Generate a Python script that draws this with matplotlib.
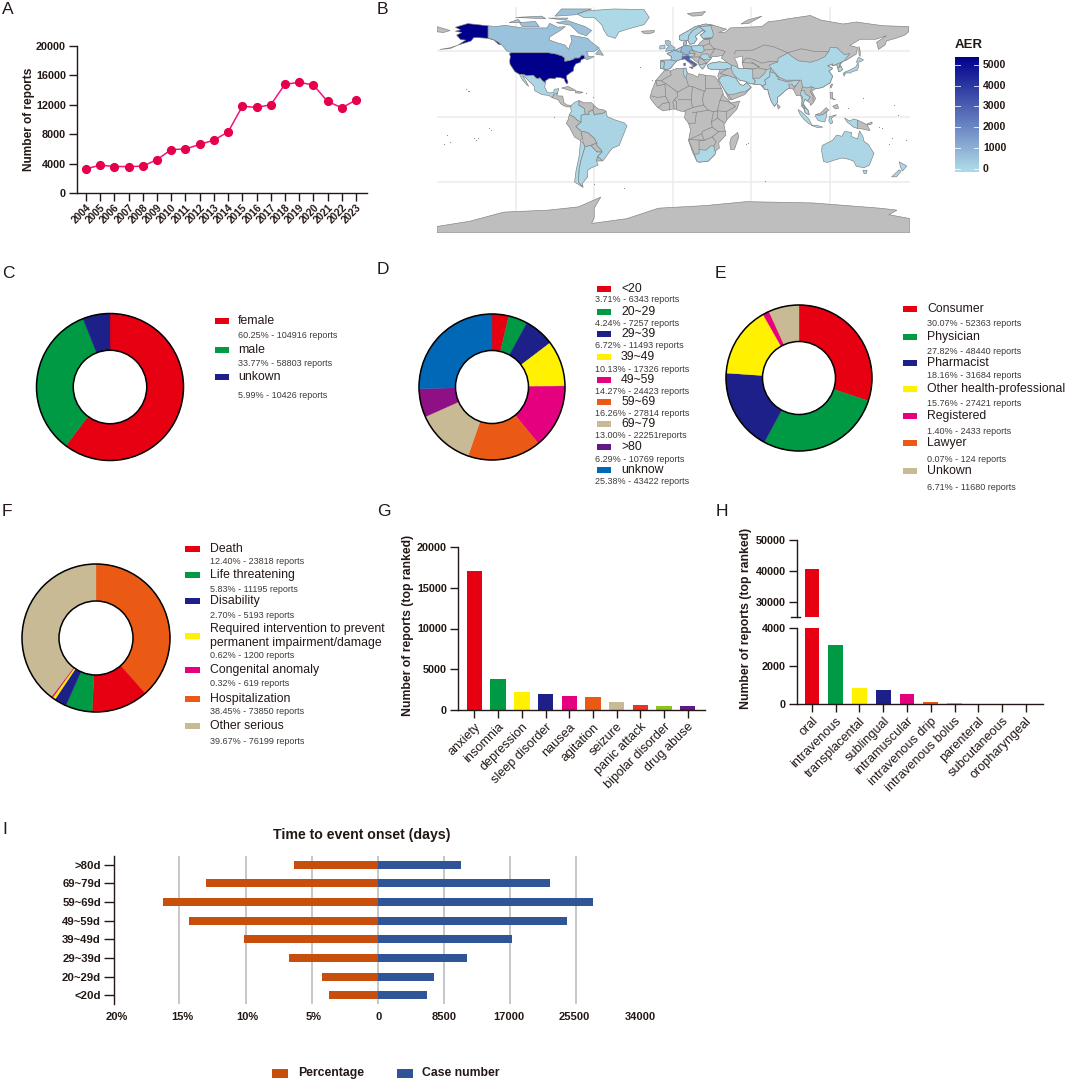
import matplotlib
matplotlib.use("Agg")
import numpy as np
import matplotlib.pyplot as plt
from matplotlib.patches import Rectangle, Circle, Polygon
from matplotlib.colors import LinearSegmentedColormap, Normalize

plt.rcParams['font.family'] = ['Liberation Sans', 'DejaVu Sans']
NARROW = ['Liberation Sans Narrow', 'Liberation Sans']

W, H = 1065, 1081
RED, GREEN, NAVY, YELLOW, PINK, ORANGE, TAN = '#e60012', '#009944', '#1d2088', '#fff100', '#e4007f', '#eb5a14', '#c9ba96'
PURPLE, BLUE = '#8f0f85', '#0068b7'

# ---------------- data ----------------
years = list(range(2004, 2024))
year_reports = [3270, 3800, 3600, 3600, 3650, 4550, 5900, 6000, 6600, 7200, 8300, 11800, 11650, 12000, 14800,
                15050, 14700, 12450, 11600, 12650]

sex_labels = ['female', 'male', 'unkown']
sex_notes = ['60.25% - 104916 reports', '33.77% - 58803 reports', '5.99% - 10426 reports']
sex_values = [104916, 58803, 10426]
sex_colors = [RED, GREEN, NAVY]

age_labels = ['<20', '20~29', '29~39', '39~49', '49~59', '59~69', '69~79', '>80', 'unknow']
age_notes = ['3.71% - 6343 reports', '4.24% - 7257 reports', '6.72% - 11493 reports', '10.13% - 17326 reports',
             '14.27% - 24423 reports', '16.26% - 27814 reports', '13.00% - 22251reports', '6.29% - 10769 reports',
             '25.38% - 43422 reports']
age_values = [6343, 7257, 11493, 17326, 24423, 27814, 22251, 10769, 43422]
age_colors = [RED, GREEN, NAVY, YELLOW, PINK, ORANGE, TAN, PURPLE, BLUE]

rep_labels = ['Consumer', 'Physician', 'Pharmacist', 'Other health-professional', 'Registered', 'Lawyer', 'Unkown']
rep_notes = ['30.07% - 52363 reports', '27.82% - 48440 reports', '18.16% - 31684 reports', '15.76% - 27421 reports',
             '1.40% - 2433 reports', '0.07% - 124 reports', '6.71% - 11680 reports']
rep_values = [52363, 48440, 31684, 27421, 2433, 124, 11680]
rep_colors = [RED, GREEN, NAVY, YELLOW, PINK, ORANGE, TAN]

out_labels = ['Death', 'Life threatening', 'Disability',
              'Required intervention to prevent\npermanent impairment/damage', 'Congenital anomaly',
              'Hospitalization', 'Other serious']
out_notes = ['12.40% - 23818 reports', '5.83% - 11195 reports', '2.70% - 5193 reports', '0.62% - 1200 reports',
             '0.32% - 619 reports', '38.45% - 73850 reports', '39.67% - 76199 reports']
out_values = [23818, 11195, 5193, 1200, 619, 73850, 76199]
out_colors = [RED, GREEN, NAVY, YELLOW, PINK, ORANGE, TAN]
# the ring starts at twelve o'clock with Hospitalization
out_ring_order = [5, 0, 1, 2, 3, 4, 6]

symptom_labels = ['anxiety', 'insomnia', 'depression', 'sleep disorder', 'nausea', 'agitation', 'seizure',
                  'panic attack', 'bipolar disorder', 'drug abuse']
symptom_values = [17030, 3830, 2240, 2000, 1750, 1630, 1020, 610, 530, 490]
symptom_colors = [RED, GREEN, YELLOW, NAVY, PINK, ORANGE, TAN, '#ea3323', '#8fc31f', '#601986']

route_labels = ['oral', 'intravenous', 'transplacental', 'sublingual', 'intramuscular', 'intravenous drip',
                'intravenous bolus', 'parenteral', 'subcutaneous', 'oropharyngeal']
route_values = [40700, 3130, 820, 720, 550, 130, 40, 15, 12, 5]
route_colors = [RED, GREEN, YELLOW, NAVY, PINK, ORANGE, TAN, '#ea3323', '#8fc31f', '#601986']

onset_labels = ['<20d', '20~29d', '29~39d', '39~49d', '49~59d', '59~69d', '69~79d', '>80d']
onset_pct = [3.71, 4.24, 6.72, 10.13, 14.27, 16.26, 13.00, 6.29]
onset_cases = [6343, 7257, 11493, 17326, 24423, 27814, 22251, 10769]

# reports per country (countries not listed have no colour scale value and stay grey)
aer_by_region = {'USA': 5400, 'Alaska': 5400, 'Italy': 3000, 'Sicily': 3000, 'Sardinia': 3000, 'Germany': 800,
                 'Canada': 550, 'Baffin': 550, 'Victoria': 550, 'Ellesmere': 550, 'Banks': 550, 'Devon': 550,
                 'Parry': 550, 'Newfoundland': 550, 'Britain': 500, 'Ireland': 150, 'France': 350, 'Spain': 200,
                 'Poland': 100, 'Netherlands': 150, 'Austria': 120, 'Denmark': 80, 'Sweden': 80, 'Norway': 80,
                 'Finland': 80, 'Romania': 50, 'Greece': 50, 'Portugal': 50, 'Greenland': 5, 'Mexico': 50, 'Colombia': 20,
                 'Brazil': 120, 'Argentina': 30, 'Chile': 20, 'China': 30, 'India': 50, 'Iran': 15, 'Pakistan': 15,
                 'Turkey': 25, 'Saudi': 10, 'Thailand': 10, 'Malaysia': 5, 'Sumatra': 5, 'Java': 5,
                 'BorneoSouth': 5, 'Sulawesi': 5, 'WestPapua': 5, 'Japan1': 50, 'Japan2': 50, 'Japan3': 50,
                 'SKorea': 20, 'Australia': 50, 'Tasmania': 50, 'NZNorth': 15, 'NZSouth': 15, 'SouthAfrica': 15,
                 'Tunisia': 5}

# outlines, lon / lat
regions = {
 'Eurasia': [(-9.5,37),(-9.3,43.2),(-1.5,43.5),(-1,46),(-4.5,48.4),(1.5,50.8),(4,52),(8,54),(8.5,57),(10.5,57.5),(10,54.5),(14,54),(19,54.5),(21,57),(24,59.4),(30,60),(23,60),(21,62.5),(25,65.5),(22,65.7),(17,61.5),(18.5,59.5),(16,56),(13,55.5),(11.5,58.5),(8,58),(5,59),(5,62),(12,66),(17,69),(25,71),(31,70),(41,67),(35,64.5),(40,64.7),(44,68),(54,68.5),(68,69),(73,72.8),(80,73.5),(88,75),(105,77.5),(113,74),(130,71),(140,72.5),(160,69.7),(180,69),(180,65),(177,62.5),(170,60),(163,58),(162,55),(157,51.5),(155.5,57),(163,62),(155,59.3),(143,59.3),(135,54.5),(141,53),(140,48),(132,43),(130,42.5),(127.5,39.8),(129.5,36),(126.5,34.5),(126,37),(125,39.8),(121.5,39),(122,40.5),(118,39),(122,37),(119,35),(122,31),(120,26),(114,22.3),(109,21.5),(106,19.5),(109,14),(107,10.5),(105,8.6),(104.8,10.5),(100.8,13.5),(99.5,10),(103.5,4.5),(104,1.4),(101,3),(100,6.5),(98.3,8),(98.5,13),(97.5,16.5),(94.5,16),(92,21),(89,21.8),(87,21),(82,16.5),(80,15),(80,11),(77.5,8),(75,12),(73,18),(72.5,21),(70,21),(67,24.5),(61.5,25),(57,26),(56,27),(51,28),(48.5,30),(48,29.5),(50,26.5),(51.5,24.5),(54,24),(56.3,26),(59.8,22.5),(55,17),(45,13),(43,13),(39,21),(35,28),(34.3,31.3),(36,36),(30,36.2),(27,37),(26.5,39.5),(29,41),(35,42),(41.5,41.5),(37,45),(38,47),(33,46),(30,46),(28,43),(26,40.8),(23,40.3),(24,38),(22.5,36.5),(19.5,41),(13.5,45.5),(12.5,44),(18.5,40),(16,38),(12,42),(9,44.3),(3,43),(0,39.5),(-2,36.8),(-5.5,36)],
 'Chukotka': [(-180,69),(-170,66),(-175,64.5),(-180,65)],
 'Aleutians': [(-178,51.5),(-170,52.8),(-164,54.8),(-170,52.2)],
 'Africa': [(-6,35.8),(-2,35),(3,37),(10,37.2),(11,33.5),(15,32.3),(19,30.3),(20,32.8),(25,31.7),(32,31),(34.2,28),(37,22),(39,16),(43,12),(44,10.5),(51,12),(49,6),(42,-1.5),(39,-6),(40.5,-14),(35,-20),(35.5,-24),(32.8,-26),(32,-29),(27,-34),(20,-34.8),(18.3,-34),(15,-27),(12,-18),(13.5,-10),(12,-5),(9,-1),(9.5,4),(6,4.3),(1,6),(-4,5.2),(-7.5,4.5),(-11.5,7),(-15,11),(-17.5,14.7),(-16,20),(-13,27.7),(-9.8,31.5)],
 'Madagascar': [(49.5,-12),(50.3,-15.5),(47,-25),(44,-25),(43.5,-20),(44.5,-16)],
 'CentralAmerica': [(-92,14.5),(-91,17.2),(-89.2,17.8),(-88,18.2),(-88.5,16),(-84,15.8),(-83.3,11),(-81,9),(-77.5,8.7),(-78,7.5),(-80.5,7.5),(-83,8.3),(-85.7,10),(-87.5,13)],
 'Venezuela': [(-71.5,12.4),(-68,10.7),(-62,10.7),(-60,8.5),(-61,5),(-64,4),(-64,1.5),(-67,2),(-67.5,6.2),(-72,9)],
 'Guyanas': [(-60,8.5),(-57,6),(-52,5),(-51,4),(-54,2.3),(-58,2),(-60,1.2),(-61,5)],
 'Peru': [(-79,1.5),(-75.5,0),(-73,-2.5),(-70,-4.2),(-74,-7.5),(-70,-11),(-69,-16),(-70.4,-18.3),(-75,-15.5),(-79,-8),(-81.3,-5),(-80,-2.5)],
 'Bolivia': [(-70,-11),(-65,-12),(-60,-16.3),(-58,-20),(-62.5,-22),(-67,-23),(-68.5,-20),(-69,-16)],
 'Paraguay': [(-58,-20),(-58,-22),(-54.5,-25.5),(-54,-27),(-58,-27),(-62.5,-22)],
 'Uruguay': [(-57.5,-30.2),(-53.5,-33.8),(-58.3,-34)],
 'Cuba': [(-85,22),(-80,23.2),(-74.2,20.2),(-78,20)],
 'Hispaniola': [(-74.5,19.8),(-68.5,18.7),(-71,18),(-74.4,18.3)],
 'Iceland': [(-24,65.5),(-14,66),(-14.5,64.5),(-19,63.4),(-22.5,64)],
 'Svalbard': [(11,79),(25,80.5),(22,77.5),(15,77)],
 'NovayaZemlya': [(52,71),(57,74),(68,77),(58,71.5)],
 'Sakhalin': [(142,54),(143,50),(143,46),(142,48)],
 'SriLanka': [(80,9.5),(82,7.5),(80.5,6),(79.8,8)],
 'Taiwan': [(121,25),(122,25),(120.8,22),(120,23)],
 'Luzon': [(120,18.5),(122,18.5),(122,14),(124,13),(120.5,14)],
 'Mindanao': [(122,8),(125.5,9.5),(126.5,6.5),(124,6)],
 'BorneoNorth': [(109,1.5),(113,3),(117,7),(119,5),(117.5,4),(115,2),(112,1)],
 'PNG': [(141,-2.6),(145,-4.5),(148,-6),(150.5,-10.5),(147,-10),(143,-9),(141,-9)],
 'NewBritain': [(148,-5.7),(152,-4),(152,-5.5),(149,-6.3)],
 'Antarctica': [(-180,-84),(-155,-80),(-129,-73),(-95,-71.5),(-72,-69),(-55,-61.5),(-60,-70),(-60,-77),(-62,-81.7),(-35,-78),(-11,-70),(25,-68),(56,-65),(107,-66),(158,-70),(171,-71.5),(165,-75),(181,-78),(181,-89),(-180,-89)],
 'USA': [(-124.7,48.4),(-123,49),(-95,49),(-89,48),(-84.5,46.5),(-82.5,45),(-82.5,42.5),(-79,43),(-76,44),(-75,45),(-71.5,45),(-69.5,47.3),(-67.8,47),(-67,44.8),(-70,43.5),(-70.5,41.7),(-74,40.5),(-75.5,38),(-76,35),(-78,33.8),(-81,31.5),(-81,29),(-80,26.5),(-80.7,25),(-82,26.5),(-83,29),(-85,29.7),(-89,30.2),(-90,29),(-94,29.5),(-97.3,27.5),(-97.2,26),(-99.5,27.5),(-101.5,29.8),(-103,29),(-104.5,29.7),(-106.5,31.8),(-111,31.3),(-114.8,32.5),(-117.1,32.5),(-120.5,34.5),(-122.5,37.5),(-124.3,40.3),(-124.5,43),(-124,46)],
 'Alaska': [(-141,69.6),(-141,60.3),(-137,59),(-133,55.5),(-131,55),(-135,58.5),(-141,60),(-148,60.5),(-152,60.5),(-154,58),(-164,54.8),(-158,58.7),(-162,59),(-165,62.5),(-161,64.5),(-166,65.5),(-162,66.5),(-166,68.5),(-156.5,71.3)],
 'Canada': [(-141,69.6),(-135,69),(-128,70),(-115,68),(-108,68),(-96,68),(-94,71.5),(-88,68.5),(-82,69),(-86,66),(-94,61),(-94.5,58.8),(-88,56.5),(-82.5,55),(-79.5,51.5),(-78.5,55),(-77,58),(-78,62.4),(-70,61),(-65,60),(-62,57),(-56,52.5),(-60,50),(-66,50),(-65,48.5),(-64.5,46),(-60,46),(-65.5,43.6),(-67,44.8),(-67.8,47),(-69.5,47.3),(-71.5,45),(-75,45),(-76,44),(-79,43),(-82.5,42.5),(-82.5,45),(-84.5,46.5),(-89,48),(-95,49),(-123,49),(-127,50.5),(-130,54.5),(-133,57),(-137,59),(-141,60.3)],
 'Baffin': [(-62,66),(-67,69),(-80,73.5),(-89,72),(-78,70),(-72,64),(-66,62)],
 'Victoria': [(-117,72),(-105,73),(-102,69),(-115,69)],
 'Ellesmere': [(-90,77),(-85,82.5),(-62,82.5),(-75,78)],
 'Banks': [(-125,72),(-118,74.5),(-116,72)],
 'Devon': [(-95,75.5),(-80,75.5),(-82,74)],
 'Parry': [(-120,76),(-100,77),(-97,75)],
 'Newfoundland': [(-59,48),(-56,51.5),(-53,47)],
 'Greenland': [(-73,78.5),(-66,81),(-45,82.5),(-22,82),(-18,76),(-22,70.5),(-33,67.5),(-41,65),(-44,60),(-50,62),(-53,67),(-54,70),(-60,76),(-68,76)],
 'Mexico': [(-117.1,32.5),(-114.8,32.5),(-111,31.3),(-106.5,31.8),(-104.5,29.7),(-103,29),(-101.5,29.8),(-99.5,27.5),(-97.2,26),(-97.8,22.5),(-96,19),(-94.5,18.2),(-91,18.7),(-90.5,21),(-87,21.5),(-88,18.2),(-89.2,17.8),(-91,17.2),(-92,14.5),(-94.5,16.2),(-100,17),(-105.5,20),(-105.5,23),(-109,26.5),(-112.5,30),(-114.7,31.5),(-112,27),(-110,23.2),(-112,25),(-115,28.5)],
 'Colombia': [(-77.5,8.7),(-75,11),(-71.5,12.4),(-72,9),(-67.5,6.2),(-67,2),(-70,1),(-70,-4.2),(-73,-2.5),(-75.5,0),(-79,1.5),(-77.5,4),(-78,7.5)],
 'Brazil': [(-51,4),(-50,0),(-44,-2.5),(-37,-4.7),(-35,-7),(-37,-12),(-39,-17),(-41,-22),(-46,-24),(-48.5,-27),(-52,-32),(-53.5,-33.8),(-57.5,-30.2),(-54,-27),(-54.5,-25.5),(-58,-22),(-58,-20),(-60,-16.3),(-65,-12),(-70,-11),(-74,-7.5),(-70,-4.2),(-70,1),(-67,2),(-64,1.5),(-64,4),(-61,5),(-60,1.2),(-58,2),(-54,2.3)],
 'Chile': [(-70.4,-18.3),(-68.5,-20),(-67,-23),(-70,-33),(-71.5,-40),(-72,-50),(-68.5,-54),(-75,-50),(-74,-42),(-71.5,-30)],
 'Argentina': [(-67,-23),(-62.5,-22),(-58,-27),(-54,-27),(-57.5,-30.2),(-58.3,-34),(-57,-37),(-62,-39),(-65,-41),(-65,-46),(-69,-51),(-68.5,-54),(-72,-50),(-71.5,-40),(-70,-33)],
 'Tunisia': [(8.2,37),(10,37.2),(11,33.5),(10,30),(9,30.5),(8,33)],
 'SouthAfrica': [(16.5,-28.6),(20,-28.4),(20,-25),(23,-25.5),(25.5,-25.5),(29,-22.3),(31.3,-22.4),(32,-26),(32.8,-26.8),(32,-29),(27,-34),(20,-34.8),(18.3,-34)],
 'China': [(73.5,39.5),(80,42),(80.5,45),(85.5,47.5),(87.5,49),(91,46),(96,42.8),(105,41.7),(111,43.5),(116,46),(119,50),(120,53),(125,53),(131,47.5),(135,48.4),(131,43),(128,41.5),(124.3,40),(121.5,39),(122,40.5),(118,39),(122,37),(119,35),(122,31),(120,26),(114,22.3),(109,21.5),(106,23),(102,22),(99,23),(98,28),(92,28),(86,28),(81,30.3),(78.5,33),(75,37)],
 'India': [(74,34.5),(78.5,33),(79,31),(81,30.3),(80,28.8),(88,26.5),(89,27),(92,27.5),(97,28),(94,24),(92,23),(91,25),(88.5,25),(89,21.8),(87,21),(82,16.5),(80,15),(80,11),(77.5,8),(75,12),(73,18),(72.5,21),(70,21),(68.5,23.7),(71,25),(70,28),(74,31)],
 'Pakistan': [(61,29.5),(63,27),(61.5,25),(67,24.5),(68.5,23.7),(71,25),(70,28),(74,31),(74,34.5),(75,37),(71.5,36),(70,33),(66,29.5)],
 'Iran': [(44.5,39.5),(48,38.5),(50,37),(54,37),(61,36.5),(61,31),(61,29.5),(63,27),(61.5,25),(57,26),(56,27),(51,28),(48.5,30),(46,33),(44.5,37)],
 'Turkey': [(26.5,39.5),(29,41),(35,42),(41.5,41.5),(44.5,39.5),(44.5,37),(36,36),(30,36.2),(27,37)],
 'Saudi': [(35,28),(37,31),(42,31.5),(48,29.5),(50,26.5),(51.5,24.5),(54,24),(56.3,26),(59.8,22.5),(55,19),(52,19),(48,17.5),(43.5,17),(42.5,16.5),(39,21)],
 'Thailand': [(97.5,17),(98,20),(100.5,20),(101,17.5),(105,15),(102.5,12),(100.8,13.5),(99.5,10),(101,6),(100,6.5),(98.5,10),(99,15)],
 'Malaysia': [(100,6.5),(102,6),(103.5,4.5),(104,1.4),(101,3)],
 'BorneoSouth': [(109,1.5),(112,1),(115,2),(117.5,4),(117.5,1),(116,-4),(111,-3),(109,0)],
 'Sumatra': [(95.5,5.5),(98,4),(104,-2),(106,-6),(104,-5.5),(100,-2),(97,2)],
 'Java': [(105.5,-6.5),(110,-6.5),(114.5,-8),(110,-8.2)],
 'Sulawesi': [(119.5,0),(125,1.5),(121,-1),(122,-4.5),(120.5,-5.5),(119,-3)],
 'WestPapua': [(131,-1),(135,-3.3),(138,-1.7),(141,-2.6),(141,-9),(138,-8),(133,-4)],
 'Japan1': [(130.8,34),(135,35.7),(139.5,38),(141.3,41.3),(142,39),(140.7,35.5),(137,34.6),(135.7,33.5),(132,33.5)],
 'Japan2': [(130,33.5),(131.7,33),(130.7,31)],
 'Japan3': [(140,41.7),(141.7,45.5),(145.5,43.5),(143,42)],
 'SKorea': [(126,37.7),(128.5,38.5),(129.5,36),(128,34.8),(126.3,34.5)],
 'Australia': [(114,-22),(113.5,-26),(115,-34.3),(118,-35),(124,-33),(129,-31.6),(134,-32.5),(138,-34),(140,-38),(146,-39),(150,-37),(153.5,-28),(149,-21),(146,-19),(145,-15),(142.5,-10.8),(141,-17),(136,-15),(136.5,-12),(131,-11.3),(129,-15),(125,-14),(122,-18),(117,-20.5)],
 'Tasmania': [(145,-41),(148.3,-41),(147.5,-43.5),(146,-43.5)],
 'NZNorth': [(172.7,-34.5),(178.5,-37.7),(175.3,-41.6),(174,-39)],
 'NZSouth': [(172.7,-40.6),(174.2,-41.7),(170.7,-46),(167,-46)],
 'Britain': [(-5.5,50),(1.5,51.3),(1.7,52.7),(-1.5,55),(-2,57.5),(-3.5,58.6),(-6,58),(-5,55),(-3,54),(-5,52)],
 'Ireland': [(-6,55),(-6,52.2),(-10,51.7),(-10,54.2)],
 'Spain': [(-9.3,43.2),(-1.5,43.5),(3,42.5),(0,39.5),(-2,36.8),(-5.5,36),(-7,37.2),(-6.5,42)],
 'Portugal': [(-9.5,37),(-7,37.2),(-6.5,42),(-9.3,42)],
 'France': [(-1.5,43.5),(-1,46),(-4.5,48.4),(1.5,50.8),(4,50),(8,49),(7,44),(3,43),(3,42.5)],
 'Germany': [(6,51),(7,53.5),(9,54.8),(14,54),(15,51),(12.5,50),(13.5,48.5),(10,47.5),(7.5,47.6),(8,49),(6,49.5)],
 'Italy': [(7,44),(7,46),(12,47),(13.5,45.7),(12.5,44),(18.5,40),(16,38),(15.5,40),(12,42),(9,44.3)],
 'Sicily': [(12.5,38),(15.5,38.2),(15,36.7)],
 'Sardinia': [(8.3,41),(9.7,41),(9.5,39),(8.4,39)],
 'Poland': [(14,54),(19,54.5),(23,54.2),(24,51),(22.5,49.2),(19,49.5),(15,51)],
 'Sweden': [(11.5,58.5),(13,55.5),(16,56),(18.5,59.5),(17,61.5),(22,65.7),(24,66),(20,69),(15,66),(12,62)],
 'Norway': [(5,59),(8,58),(11.5,58.5),(12,62),(15,66),(20,69),(29,69.7),(31,70),(25,71),(17,69),(12,66),(5,62)],
 'Finland': [(21,62.5),(23,60),(30,60.5),(31,63),(29,69.7),(20,69),(24,66),(25,65.5)],
 'Netherlands': [(2.5,51),(4,52),(7,53.5),(6,51),(6,49.5),(4,50)],
 'Austria': [(10,47.5),(13.5,48.5),(17,48),(16,46.7),(13.5,45.7),(12,47)],
 'Denmark': [(8,54.8),(8.5,57),(10.5,57.5),(10,54.8)],
 'Romania': [(22.5,48),(27,48),(28,45.5),(29.5,45),(28.5,43.7),(23,43.8),(20.5,45.8)],
 'Greece': [(20,39.7),(23,40.3),(26,40.8),(24,38),(22.5,36.5),(21,38)],
}
inland_seas = {'Caspian': [(47,45),(53,46.5),(53,41),(54,37),(50,37),(49,41)]}
border_lines = [
 [(25,31.7),(25,20),(24,19.5),(22.5,13),(23.5,9),(27,5),(31,3.8),(34,4.5),(36,12.5),(38,17.5)], [(25,22),(36.9,22)],
 [(24,19.5),(15,23),(12,23.5),(10,30)], [(-2,35),(-1.2,32),(-8.7,27.7),(-13,27.7)],
 [(-8.7,27.3),(-4.8,25),(3.3,19),(4,19),(12,23.5)], [(-13,27.7),(-12,23.5),(-6,25),(-5.5,15.5),(-12,14.8),(-16.5,16)],
 [(3.3,19),(3.5,15.4),(1,13),(3,11.5),(2.7,6.3)], [(-5.5,15.5),(-3,11),(-8,10),(-11,7)], [(-3,11),(-3,5)], [(1,13),(0,11),(1,6)],
 [(4,13),(14,13),(15,7),(9,4.5)], [(14,13),(15,23)], [(15,7),(23.5,9)], [(15,3),(18,3.5),(27,5)],
 [(18,3.5),(17,-5),(12,-5)], [(31,3.8),(29.5,-4),(30,-8),(23,-11),(22,-13),(12.5,-17.5)], [(29.5,-4),(34,-1),(34,4.5)],
 [(34,-1),(39,-4.5)], [(30,-8),(35,-11.5),(40.5,-11)], [(34,4.5),(41,4),(41,-1.5)], [(36,12.5),(43,11.5)],
 [(41,4),(48,8),(43,11)], [(22,-13),(24,-18),(20,-18),(20,-25)], [(12.5,-17.5),(24,-18),(30,-15.5),(35,-11.5)],
 [(30,-15.5),(33,-19),(31.3,-22.4)], [(16.5,-28.6),(12,-18)],
 [(28,59.5),(28,56),(31,52.5),(40,50),(38,47)], [(47,48),(48,50.5),(61,51),(70,55),(77,53.5),(87.5,49)],
 [(53,41.5),(56,45),(61,44),(68,41),(74,42.5),(80,42)], [(87.5,49),(98,52),(108,50),(116,50),(119,50)],
 [(54,37),(61,36.5),(65,37.5),(71.5,36)], [(53,41.5),(61,41),(66,38)], [(92,21),(94,24)], [(98,20),(99,23)],
 [(106,23),(105,19),(107,16),(107,12)], [(36,33),(42,31.5)], [(42,37),(36,33)],
 [(24,51),(32,52),(28,45.5)], [(23,54.2),(28,56)], [(24,59),(28,59.5)], [(13.5,45.7),(20.5,45.8),(23,43.8)],
 [(20,39.7),(19.5,42),(20.5,45.8)], [(23,43.8),(26,41)], [(15,51),(17,48)], [(42.5,16.5),(45,13)],
 [(127,38),(128,41.5)], [(60,42),(66,38)],
]
tiny_island_lon = [-156, -155.5, -157.5, -150, -149, -152, -172, -175, -170, -140, -139, -90.5, 178, 167, 165, 160, 157, 145, 55.5, 57.5, -25, -16, -61, -66, -60, -37, 70, 134, 172, 169]
tiny_island_lat = [20, 19.5, 21, -17.5, -16.5, -16, -14, -21, -19, -9, -10, -0.5, -18, -16, -21, -9, -8, 14, -21, -20, 38, 28, 15, 18.3, -51.7, -54.5, -49, 7, 1, 9]
gridline_lon = [-120, -60, 0, 60, 120]
gridline_lat = [50, 0, -50]

# ---------------- helpers ----------------
fig = plt.figure(figsize=(W / 100, H / 100), dpi=100, facecolor='white')


def box(x0, y0, x1, y1, **kw):
    """axes from a pixel box (y measured from the top of the figure)"""
    return fig.add_axes([x0 / W, 1 - y1 / H, (x1 - x0) / W, (y1 - y0) / H], **kw)


overlay = box(0, 0, W, H, zorder=20)
overlay.set_xlim(0, W)
overlay.set_ylim(H, 0)
overlay.axis('off')
overlay.patch.set_alpha(0)


def ptext(x, y, s, size=9, weight='normal', color='#231815', ha='left', family=None, **kw):
    overlay.text(x, y, s, fontsize=size, fontweight=weight, color=color, ha=ha, va='center',
                 family=family if family else plt.rcParams['font.family'], **kw)


def swatch(x0, x1, yc, h, color):
    overlay.add_patch(Rectangle((x0, yc - h / 2), x1 - x0, h, facecolor=color, edgecolor='none'))


for letter, lx, ly in [('A', 2, 9), ('B', 377, 9), ('C', 2, 273), ('D', 377, 270), ('E', 715, 273), ('F', 2, 511),
                       ('G', 377, 511), ('H', 716, 511), ('I', 2, 830)]:
    ptext(lx, ly, letter, size=12.5)


def style_axes(ax, tick=6):
    for s in ('top', 'right'):
        ax.spines[s].set_visible(False)
    for s in ('left', 'bottom'):
        ax.spines[s].set_linewidth(1.0)
        ax.spines[s].set_color('#231815')
    ax.tick_params(length=tick, width=1, color='#231815', pad=2)
    ax.patch.set_alpha(0)


# ---------------- A ----------------
ax = box(77, 46, 367, 193)
ax.plot(years, year_reports, color='#f0147c', lw=1.1, marker='o', ms=5.6, mfc='#e6004c', mec='#e6004c', clip_on=False)
ax.set_xlim(2003.37, 2023.77)
ax.set_ylim(0, 20000)
ax.set_yticks([0, 4000, 8000, 12000, 16000, 20000])
ax.set_xticks(years)
ax.set_xticklabels(years, rotation=45, ha='right', rotation_mode='anchor', fontsize=7.4, fontweight='bold', color='#231815')
for t in ax.get_yticklabels():
    t.set_fontsize(7.8)
    t.set_fontweight('bold')
    t.set_color('#231815')
style_axes(ax)
ax.tick_params(axis='x', pad=1)
ptext(29, 119, 'Number of reports', size=8.6, weight='bold', ha='center', rotation=90)

# ---------------- B ----------------
ax = box(437, 7, 910, 233)
ax.set_xlim(-180, 181)
ax.set_ylim(-89, 84)
ax.axis('off')
for g in gridline_lon:
    ax.axvline(g, color='#ececec', lw=1.1, zorder=0)
for g in gridline_lat:
    ax.axhline(g, color='#ececec', lw=1.1, zorder=0)
aer_norm = Normalize(0, 5400)
aer_cmap = LinearSegmentedColormap.from_list('aer', ['#add8e6', '#00008b'])
for name, pts in regions.items():
    val = aer_by_region.get(name)
    fc = '#bebebe' if val is None else aer_cmap(aer_norm(val))
    ax.add_patch(Polygon(pts, closed=True, facecolor=fc, edgecolor='#7f7f7f', lw=0.45, zorder=2))
for pts in inland_seas.values():
    ax.add_patch(Polygon(pts, closed=True, facecolor='white', edgecolor='#7f7f7f', lw=0.45, zorder=3))
for line in border_lines:
    xs, ys = zip(*line)
    ax.plot(xs, ys, color='#7f7f7f', lw=0.45, zorder=3)
ax.scatter(tiny_island_lon, tiny_island_lat, s=0.6, color='#808080', lw=0, zorder=3)

cax = box(955, 57, 979, 172)
grad = np.linspace(-150, 5380, 256).reshape(-1, 1)
cax.imshow(grad, origin='lower', aspect='auto', cmap=aer_cmap, norm=aer_norm, extent=[0, 1, -150, 5380])
cax.set_xlim(0, 1)
cax.axis('off')
bar_ticks = [0, 1000, 2000, 3000, 4000, 5000]
for v in bar_ticks:
    cax.plot([0, 0.2], [v, v], color='white', lw=0.7, alpha=.8)
    cax.plot([0.8, 1], [v, v], color='white', lw=0.7, alpha=.8)
    cax.text(1.17, v, str(v), transform=cax.get_yaxis_transform(), fontsize=7.6, fontweight='bold',
             family=NARROW, va='center', ha='left', color='#231815')
ptext(955, 45, 'AER', size=9.5, weight='bold', family=NARROW)


# ---------------- donuts ----------------
def donut(cx, cy, r, values, colors):
    a = box(cx - r * 1.05, cy - r * 1.05, cx + r * 1.05, cy + r * 1.05)
    wedges, _ = a.pie(values, colors=colors, startangle=90, counterclock=False, radius=1,
                      wedgeprops=dict(width=0.5, linewidth=0.25))
    for w in wedges:
        w.set_edgecolor(w.get_facecolor())
    a.set_xlim(-1.05, 1.05)
    a.set_ylim(-1.05, 1.05)
    a.add_patch(Circle((0, 0), 1, fill=False, ec='black', lw=1.1))
    a.add_patch(Circle((0, 0), 0.5, fc='white', ec='black', lw=1.1))


def legend(labels, notes, colors, sw0, sw1, tx, nx, rows, note_rows, size=8.8, note_size=6.5):
    for lab, note, col, y, ny in zip(labels, notes, colors, rows, note_rows):
        swatch(sw0, sw1, y, 6.5, col)
        ptext(tx, y, lab, size=size, linespacing=1.15)
        ptext(nx, ny, note, size=note_size, color='#3e3a39')


donut(110, 387, 73.5, sex_values, sex_colors)
legend(sex_labels, sex_notes, sex_colors, 215, 229, 238, 238, [321, 350, 377], [336, 364, 395])

donut(492, 387, 73, age_values, age_colors)
legend(age_labels, age_notes, [RED, GREEN, NAVY, YELLOW, PINK, ORANGE, TAN, '#601986', BLUE], 597, 611, 621, 595,
       [289, 312, 334, 357, 380, 402, 424, 447, 470], [300, 323, 345, 369, 392, 413, 436, 459, 482])

donut(799, 378, 73, rep_values, rep_colors)
legend(rep_labels, rep_notes, rep_colors, 903, 917, 927, 927, [309, 337, 363, 389, 416, 443, 471],
       [323, 351, 375, 403, 431, 459, 487])

donut(96, 638, 74, [out_values[i] for i in out_ring_order], [out_colors[i] for i in out_ring_order])
legend(out_labels, out_notes, out_colors, 185, 200, 210, 210, [549, 575, 601, 636, 670, 699, 726],
       [562, 589, 615, 656, 684, 712, 742])


# ---------------- G ----------------
def label_categories(a, labels):
    a.set_xticks(range(len(labels)))
    a.set_xticklabels(labels, rotation=45, ha='right', rotation_mode='anchor', fontsize=9.1, color='#231815')


def bold_y(a, size=7.8):
    for t in a.get_yticklabels():
        t.set_fontsize(size)
        t.set_fontweight('bold')
        t.set_color('#231815')


ax = box(458, 547, 705, 710)
ax.bar(range(10), symptom_values, width=0.65, color=symptom_colors)
ax.set_xlim(-0.696, 9.726)
ax.set_ylim(0, 20000)
ax.set_yticks(range(0, 20001, 5000))
label_categories(ax, symptom_labels)
bold_y(ax)
style_axes(ax)
ptext(408, 625, 'Number of reports (top ranked)', size=8.8, weight='bold', ha='center', rotation=90)

# ---------------- H ----------------
low = box(796.7, 628, 1043, 704)
up = box(796.7, 540, 1043, 617)
for a in (low, up):
    a.bar(range(10), route_values, width=0.63, color=route_colors)
    a.set_xlim(-0.644, 9.726)
    style_axes(a)
low.set_ylim(0, 4000)
low.set_yticks([0, 2000, 4000])
up.set_ylim(25200, 50000)
up.set_yticks([30000, 40000, 50000])
up.spines['bottom'].set_visible(False)
up.tick_params(axis='x', bottom=False, labelbottom=False)
label_categories(low, route_labels)
bold_y(low)
bold_y(up)
overlay.plot([790.7, 800], [617, 617], color='#231815', lw=1)
ptext(746, 618, 'Number of reports (top ranked)', size=8.8, weight='bold', ha='center', rotation=90)

# ---------------- I ----------------
y_rows = np.arange(len(onset_labels))
left = box(113.5, 856, 377.5, 1004)
right = box(377.5, 856, 641.5, 1004)
for a, vals, col, lim, ticks in [
        (left, onset_pct, '#c84e0e', (20, 0), [15, 10, 5, 0]),
        (right, onset_cases, '#2f5597', (0, 34000), [0, 8500, 17000, 25500])]:
    a.barh(y_rows, vals, height=0.43, color=col, zorder=3)
    a.set_xlim(*lim)
    a.set_ylim(-0.47, 7.47)
    a.set_xticks(ticks)
    a.grid(axis='x', color='#bdbdbd', lw=1.2, zorder=0)
    a.tick_params(axis='x', length=0, labelbottom=False)
    for s in ('top', 'right', 'bottom', 'left'):
        a.spines[s].set_visible(False)
    a.patch.set_alpha(0)
left.spines['left'].set_visible(True)
left.spines['left'].set_linewidth(1)
left.spines['left'].set_color('#231815')
left.set_yticks(y_rows)
left.set_yticklabels(onset_labels, fontsize=8.2, fontweight='bold', family=NARROW, color='#231815')
left.tick_params(axis='y', length=7, width=1, pad=2, color='#231815')
right.set_yticks([])

xtick_text = ['20%', '15%', '10%', '5%', '0', '8500', '17000', '25500', '34000']
for s, tx in zip(xtick_text, np.linspace(117, 640, 9)):
    ptext(tx, 1017, s, size=8, weight='bold', ha='center', family=NARROW)
ptext(362, 835, 'Time to event onset (days)', size=10.2, weight='bold', ha='center')
swatch(272, 288, 1073, 9, '#c84e0e')
ptext(298, 1073, 'Percentage', size=8.8, weight='bold')
swatch(397, 413, 1073, 9, '#2f5597')
ptext(422, 1073, 'Case number', size=8.8, weight='bold')

fig.savefig('out.png', dpi=100, facecolor='white')
